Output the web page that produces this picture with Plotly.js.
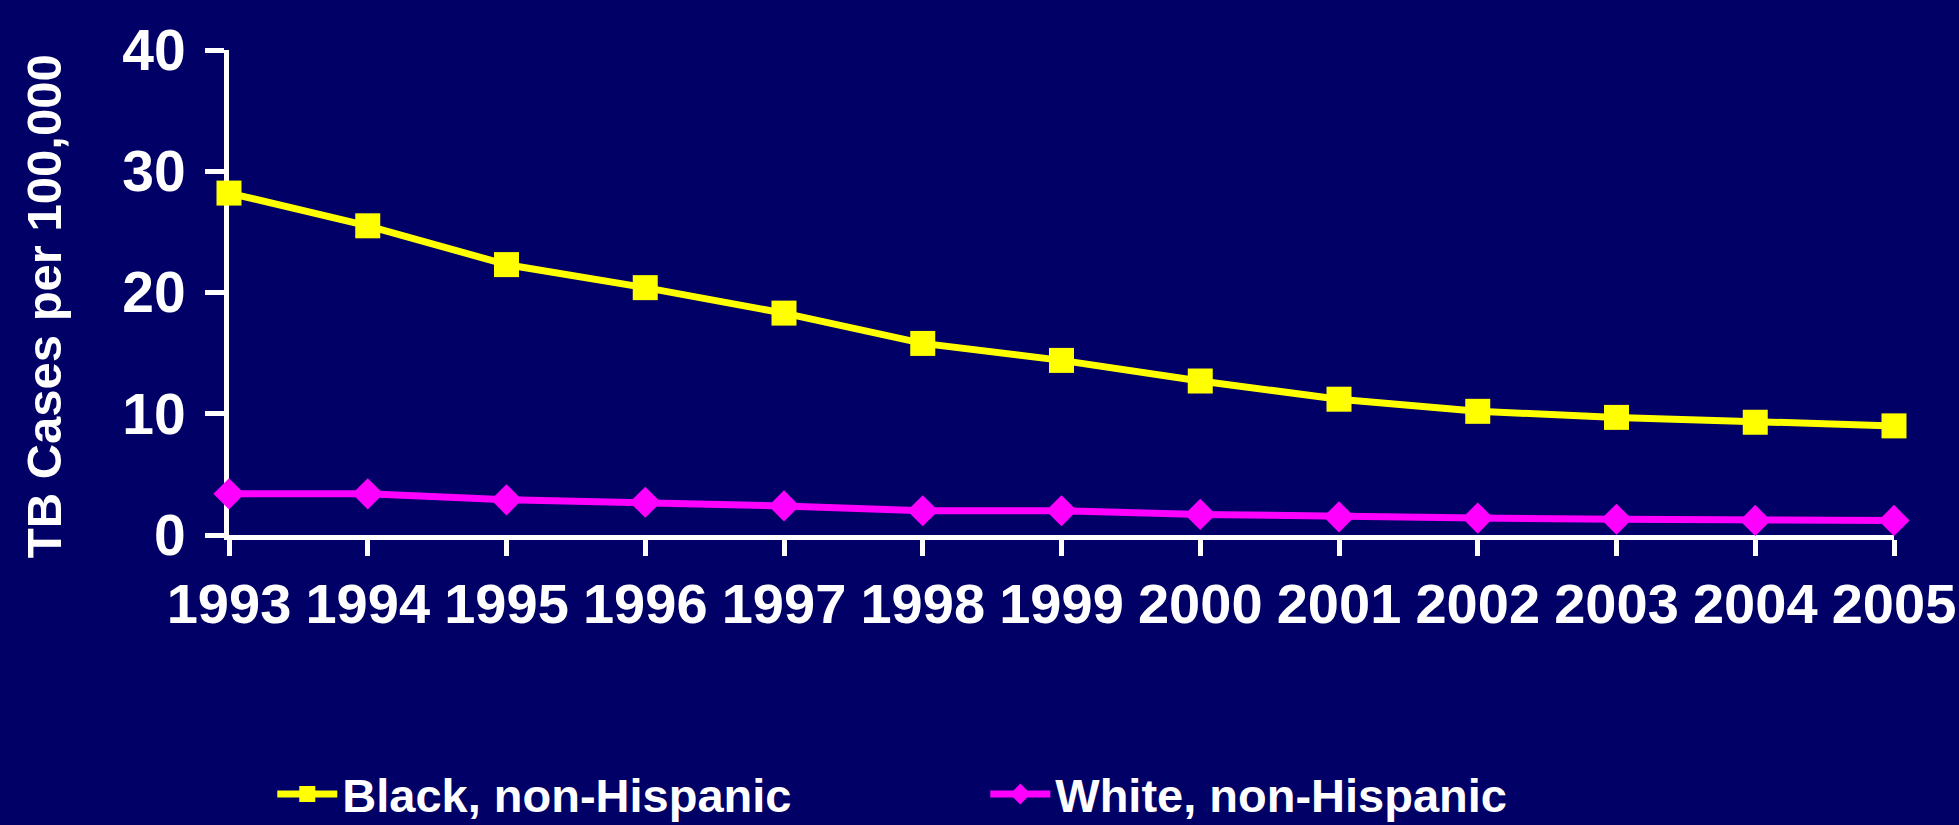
<!DOCTYPE html>
<html>
<head>
<meta charset="utf-8">
<script src="https://cdn.plot.ly/plotly-3.0.1.min.js"></script>
<style>
  html, body { margin: 0; padding: 0; background: #000066; }
  #chart { width: 1959px; height: 825px; }
</style>
</head>
<body>
<div id="chart"></div>
<script>
// TB case rates per 100,000 population, by race/ethnicity
const years = [1993, 1994, 1995, 1996, 1997, 1998, 1999, 2000, 2001, 2002, 2003, 2004, 2005];
const blackNonHispanic = [28.2, 25.5, 22.3, 20.4, 18.3, 15.8, 14.4, 12.7, 11.2, 10.2, 9.7, 9.3, 9.0];
const whiteNonHispanic = [3.4, 3.4, 2.9, 2.7, 2.4, 2.0, 2.0, 1.7, 1.5, 1.4, 1.3, 1.2, 1.2];
const seriesNames = ['Black, non-Hispanic', 'White, non-Hispanic'];
const yTicks = [0, 10, 20, 30, 40];

const FONT = 'Liberation Sans, Arial, Helvetica, sans-serif';

const traces = [
  {
    x: years, y: blackNonHispanic, name: seriesNames[0],
    type: 'scatter', mode: 'lines+markers', cliponaxis: false,
    line: { color: '#FFFF00', width: 7 },
    marker: { symbol: 'square', size: 25, color: '#FFFF00' }
  },
  {
    x: years, y: whiteNonHispanic, name: seriesNames[1],
    type: 'scatter', mode: 'lines+markers', cliponaxis: false,
    line: { color: '#FF00FF', width: 7 },
    marker: { symbol: 'diamond', size: 24, color: '#FF00FF' }
  }
];

const layout = {
  width: 1959, height: 825,
  paper_bgcolor: '#000066', plot_bgcolor: '#000066',
  margin: { l: 229, r: 65, t: 50, b: 290, autoexpand: false },
  font: { family: FONT, color: '#FFFFFF', weight: 'bold' },
  xaxis: {
    range: [1993, 2005], tickvals: years, ticktext: years.map(String),
    showgrid: false, zeroline: false,
    showline: true, linecolor: '#FFFFFF', linewidth: 5,
    ticks: 'outside', ticklen: 16, tickwidth: 5, tickcolor: '#FFFFFF',
    tickfont: { family: FONT, size: 56, color: '#FFFFFF', weight: 'bold' },
    layer: 'below traces'
  },
  yaxis: {
    range: [0, 40], tickvals: yTicks,
    showgrid: false, zeroline: false,
    showline: true, linecolor: '#FFFFFF', linewidth: 5,
    ticks: 'outside', ticklen: 19, tickwidth: 5, tickcolor: '#FFFFFF',
    ticklabelstandoff: 8,
    tickfont: { family: FONT, size: 57, color: '#FFFFFF', weight: 'bold' },
    layer: 'below traces'
  },
  annotations: [{
    text: 'TB Cases per 100,000',
    xref: 'paper', yref: 'paper', x: -0.111, y: 0.472,
    xanchor: 'center', yanchor: 'middle', textangle: -90, showarrow: false,
    font: { family: FONT, size: 49, color: '#FFFFFF', weight: 'bold' }
  }],
  showlegend: true,
  legend: {
    orientation: 'h', xref: 'paper', yref: 'container',
    x: 0.026, y: 0.037, xanchor: 'left', yanchor: 'middle',
    bgcolor: 'rgba(0,0,0,0)', borderwidth: 0,
    entrywidth: 638, entrywidthmode: 'pixels',
    itemwidth: 60,
    font: { family: FONT, size: 47, color: '#FFFFFF', weight: 'bold' }
  }
};

Plotly.newPlot('chart', traces, layout, { displayModeBar: false, staticPlot: true });
</script>
</body>
</html>
